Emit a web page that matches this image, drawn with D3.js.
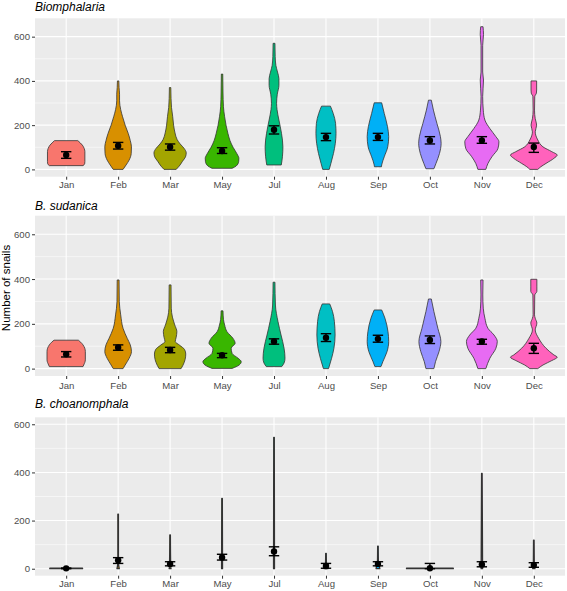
<!DOCTYPE html>
<html>
<head>
<meta charset="utf-8">
<script src="https://cdn.jsdelivr.net/npm/d3@7"></script>
<style>
  html, body { margin: 0; padding: 0; background: #fff; }
  svg { display: block; font-family: "Liberation Sans", Arial, sans-serif; }
</style>
</head>
<body>
<svg id="chart" width="567" height="591"></svg>
<script>
// ---------------- DATA ----------------
const months = ["Jan","Feb","Mar","May","Jul","Aug","Sep","Oct","Nov","Dec"];
const hueColors = ["#F8766D","#D89000","#A3A500","#39B600","#00BF7D","#00BFC4","#00B0F6","#9590FF","#E76BF3","#FF62BC"];
const panelTitles = ["Biomphalaria","B. sudanica","B. choanomphala"];
const yAxisTitle = "Number of snails";
const yTicks = [0, 200, 400, 600];
const yMinorTicks = [100, 300, 500];

// violin density profiles: [number of snails, relative width (1 = widest violin)]
const biomViolins = [
  [[17,.72],[25,.79],[35,.80],[80,.80],[95,.77],[110,.69],[120,.60],[130,.50]],
  [[0,.21],[20,.34],[42,.47],[72,.56],[102,.57],[130,.52],[163,.43],[200,.30],[238,.19],[270,.11],[310,.06],[340,.06],[370,.04],[400,.03]],
  [[0,.26],[15,.39],[35,.52],[60,.67],[75,.69],[95,.60],[115,.43],[135,.30],[165,.21],[200,.15],[240,.11],[280,.06],[320,.04],[370,.03]],
  [[5,.43],[15,.60],[35,.71],[50,.72],[70,.64],[100,.47],[130,.34],[163,.25],[200,.17],[238,.11],[283,.06],[350,.04],[431,.03]],
  [[20,.31],[57,.36],[102,.38],[163,.32],[223,.21],[270,.13],[298,.11],[340,.14],[380,.21],[410,.21],[440,.15],[470,.08],[510,.05],[570,.04]],
  [[0,.14],[27,.21],[72,.32],[118,.40],[163,.43],[208,.41],[253,.31],[286,.19]],
  [[12,.15],[20,.16],[57,.27],[102,.42],[148,.46],[193,.41],[253,.27],[301,.16]],
  [[3,.17],[27,.26],[72,.41],[118,.48],[148,.45],[208,.30],[268,.15],[313,.06]],
  [[0,.17],[27,.26],[57,.43],[95,.69],[125,.73],[148,.60],[185,.34],[223,.13],[268,.06],[330,.035],[404,.07],[440,.035],[560,.035],[610,.07],[645,.05]],
  [[0,.17],[12,.30],[27,.52],[50,.86],[65,1.0],[80,.77],[102,.39],[133,.17],[170,.06],[200,.12],[229,.06],[268,.03],[329,.04],[345,.11],[359,.12],[400,.12]]
];
const sudaViolins = [
  [[9,.72],[16,.75],[39,.82],[76,.82],[106,.72],[118,.62],[127,.52]],
  [[0,.21],[16,.30],[46,.47],[76,.57],[106,.52],[135,.39],[180,.21],[240,.11],[299,.05],[396,.04]],
  [[0,.47],[15,.55],[40,.64],[65,.67],[85,.62],[105,.40],[121,.22],[140,.26],[165,.29],[195,.20],[230,.10],[270,.05],[374,.04]],
  [[1,.43],[16,.73],[31,.82],[46,.69],[68,.43],[91,.39],[113,.56],[135,.47],[165,.21],[195,.11],[220,.06],[258,.04]],
  [[9,.33],[25,.43],[46,.47],[91,.43],[150,.30],[210,.17],[284,.06],[386,.04]],
  [[0,.11],[46,.24],[91,.34],[150,.39],[210,.36],[255,.28],[289,.16]],
  [[9,.13],[31,.21],[76,.39],[121,.46],[165,.43],[225,.30],[262,.16]],
  [[0,.17],[31,.24],[76,.39],[121,.47],[180,.34],[255,.17],[311,.06]],
  [[0,.17],[46,.34],[91,.60],[121,.66],[150,.52],[180,.26],[225,.13],[270,.06],[329,.04],[396,.05]],
  [[0,.17],[16,.39],[36,.77],[51,1.0],[61,.86],[91,.52],[135,.21],[173,.06],[203,.13],[225,.06],[240,.03],[329,.04],[345,.13],[365,.13],[399,.13]]
];
const choaViolins = [
  [[0,.70],[2,.70]],
  [[0,.05],[10,.03],[30,.012],[227,.012]],
  [[0,.04],[10,.025],[140,.012]],
  [[0,.02],[292,.012]],
  [[0,.02],[546,.012]],
  [[0,.08],[8,.05],[20,.02],[64,.012]],
  [[0,.08],[10,.06],[25,.02],[94,.012]],
  [[0,1.0],[2,1.0]],
  [[0,.03],[396,.012]],
  [[0,.05],[15,.02],[119,.012]]
];

// means and standard-error limits
const biomMean = [65,107,101,83,179,146,146,131,131,101];
const biomLow  = [50,92,87,72,160,130,131,115,118,77];
const biomHigh = [80,122,115,98,197,163,163,148,148,119];
const sudaMean = [64,94,83,60,121,138,133,128,121,91];
const sudaLow  = [52,82,71,49,109,121,118,112,109,68];
const sudaHigh = [76,106,95,68,133,156,149,146,131,113];
const choaMean = [1.5,35,20,47,72,11,20,2,18,15];
const choaLow  = [0,22,12,36,54,2,12,0,8,6];
const choaHigh = [3,46,29,60,91,22,29,22,29,25];

// ---------------- DRAWING ----------------
const svg = d3.select("#chart");
const plotLeft = 35, plotRight = 565;

const panels = [
  { title: panelTitles[0], violins: biomViolins, mean: biomMean, lo: biomLow, hi: biomHigh,
    top: 18.3, bottom: 176.7, domain: [-33, 683], titleY: 10.5, labelY: 188.5, stroke: 0.8 },
  { title: panelTitles[1], violins: sudaViolins, mean: sudaMean, lo: sudaLow, hi: sudaHigh,
    top: 215.7, bottom: 376, domain: [-33, 683], titleY: 209.5, labelY: 388.5, stroke: 0.8 },
  { title: panelTitles[2], violins: choaViolins, mean: choaMean, lo: choaLow, hi: choaHigh,
    top: 417.3, bottom: 575.7, domain: [-29, 629], titleY: 407.5, labelY: 587.5, stroke: 1.3 }
];

const x = d3.scalePoint().domain(months).range([plotLeft, plotRight]).padding(0.6);
const step = x.step();
const halfMax = step * 0.45;
const color = d3.scaleOrdinal().domain(months).range(hueColors);

panels.forEach(p => {
  const y = d3.scaleLinear().domain(p.domain).range([p.bottom, p.top]);
  const g = svg.append("g");

  // panel background
  g.append("rect")
    .attr("x", plotLeft).attr("y", p.top)
    .attr("width", plotRight - plotLeft).attr("height", p.bottom - p.top)
    .attr("fill", "#EBEBEB");

  // minor grid
  g.selectAll(".minor").data(yMinorTicks).enter().append("line")
    .attr("x1", plotLeft).attr("x2", plotRight)
    .attr("y1", d => y(d)).attr("y2", d => y(d))
    .attr("stroke", "#fff").attr("stroke-width", 0.55);
  // major grid
  g.selectAll(".majorY").data(yTicks).enter().append("line")
    .attr("x1", plotLeft).attr("x2", plotRight)
    .attr("y1", d => y(d)).attr("y2", d => y(d))
    .attr("stroke", "#fff").attr("stroke-width", 1.1);
  g.selectAll(".majorX").data(months).enter().append("line")
    .attr("x1", d => x(d)).attr("x2", d => x(d))
    .attr("y1", p.top).attr("y2", p.bottom)
    .attr("stroke", "#fff").attr("stroke-width", 1.1);

  // y axis
  const yAxis = d3.axisLeft(y).tickValues(yTicks).tickSize(3).tickPadding(2);
  const ya = g.append("g").attr("transform", `translate(${plotLeft},0)`).call(yAxis);
  ya.select(".domain").remove();
  ya.selectAll(".tick line").attr("stroke", "#333").attr("stroke-width", 1);
  ya.selectAll(".tick text").attr("fill", "#4D4D4D").style("font-size", "9.6px")
    .style("font-family", "'Liberation Sans', Arial, sans-serif");

  // x axis
  const xAxis = d3.axisBottom(x).tickSize(3).tickPadding(2);
  const xa = g.append("g").attr("transform", `translate(0,${p.bottom})`).call(xAxis);
  xa.select(".domain").remove();
  xa.selectAll(".tick line").attr("stroke", "#333").attr("stroke-width", 1);
  xa.selectAll(".tick text").attr("fill", "#4D4D4D").style("font-size", "9.6px")
    .style("font-family", "'Liberation Sans', Arial, sans-serif")
    .attr("dy", null).attr("y", p.labelY - p.bottom);

  // violins
  months.forEach((m, i) => {
    const cx = x(m);
    const area = d3.area()
      .y(d => y(d[0]))
      .x0(d => cx - d[1] * halfMax)
      .x1(d => cx + d[1] * halfMax)
      .curve(d3.curveMonotoneY);
    g.append("path")
      .attr("d", area(p.violins[i]))
      .attr("fill", color(m))
      .attr("stroke", "#333")
      .attr("stroke-width", p.stroke)
      .attr("stroke-linejoin", "round");
  });

  // error bars
  const capHalf = step * 0.1;
  months.forEach((m, i) => {
    const cx = x(m);
    const eg = g.append("g").attr("stroke", "#000").attr("stroke-width", 1.4);
    eg.append("line").attr("x1", cx).attr("x2", cx)
      .attr("y1", y(p.lo[i])).attr("y2", y(p.hi[i]));
    eg.append("line").attr("x1", cx - capHalf).attr("x2", cx + capHalf)
      .attr("y1", y(p.lo[i])).attr("y2", y(p.lo[i]));
    eg.append("line").attr("x1", cx - capHalf).attr("x2", cx + capHalf)
      .attr("y1", y(p.hi[i])).attr("y2", y(p.hi[i]));
    g.append("circle").attr("cx", cx).attr("cy", y(p.mean[i])).attr("r", 3.2).attr("fill", "#000");
  });

  // panel title
  svg.append("text")
    .attr("x", plotLeft).attr("y", p.titleY)
    .attr("font-style", "italic").attr("font-size", "12px").attr("fill", "#000")
    .text(p.title);
});

// y axis title
svg.append("text")
  .attr("transform", "translate(9.5,288) rotate(-90)")
  .attr("text-anchor", "middle")
  .attr("font-size", "11.5px").attr("fill", "#000")
  .text(yAxisTitle);
</script>
</body>
</html>
